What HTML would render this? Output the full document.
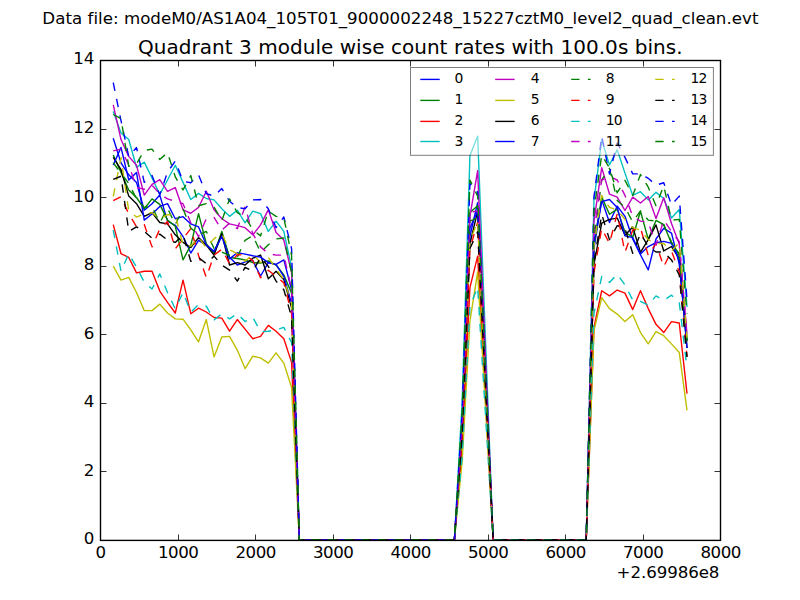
<!DOCTYPE html>
<html lang="en"><head><meta charset="utf-8"><title>Quadrant 3 module wise count rates</title>
<style>html,body{margin:0;padding:0;background:#fff;}body{width:800px;height:600px;overflow:hidden;}svg{display:block;}text{font-family:"DejaVu Sans","Liberation Sans",sans-serif;fill:#000;}</style></head><body>
<svg width="800" height="600" viewBox="0 0 800 600">
<rect x="0" y="0" width="800" height="600" fill="#ffffff"/>
<defs><clipPath id="ax"><rect x="100" y="60" width="620" height="480"/></clipPath></defs>
<g clip-path="url(#ax)" fill="none" stroke-width="1.39" stroke-linejoin="round" stroke-linecap="butt">
<polyline points="113.25,138.17 121.00,162.86 128.76,174.86 136.51,182.40 144.26,210.17 152.02,203.66 159.77,195.09 167.52,221.14 175.28,225.26 183.03,236.57 190.78,253.03 198.54,240.34 206.29,245.14 214.04,251.31 221.80,234.86 229.55,257.14 237.30,265.03 245.06,261.94 252.81,260.57 260.56,276.00 268.32,262.63 276.07,264.34 283.83,259.89 291.58,289.71 299.33,540.00 307.09,540.00 314.84,540.00 322.59,540.00 330.35,540.00 338.10,540.00 345.85,540.00 353.61,540.00 361.36,540.00 369.11,540.00 376.87,540.00 384.62,540.00 392.37,540.00 400.13,540.00 407.88,540.00 415.63,540.00 423.39,540.00 431.14,540.00 438.89,540.00 446.65,540.00 454.40,540.00 462.15,430.63 469.91,236.23 477.66,202.63 485.41,371.31 493.17,540.00 500.92,540.00 508.67,540.00 516.43,540.00 524.18,540.00 531.93,540.00 539.69,540.00 547.44,540.00 555.19,540.00 562.95,540.00 570.70,540.00 578.45,540.00 586.21,540.00 593.96,248.57 601.72,199.89 609.47,222.51 617.22,206.06 624.98,216.34 632.73,238.97 640.48,254.74 648.24,269.83 655.99,238.97 663.74,228.34 671.50,233.14 679.25,264.00 687.00,341.14" stroke="#0000ff"/>
<polyline points="113.25,154.97 121.00,172.46 128.76,189.94 136.51,197.49 144.26,208.80 152.02,198.86 159.77,204.34 167.52,220.11 175.28,226.29 183.03,259.89 190.78,245.14 198.54,213.60 206.29,243.77 214.04,253.71 221.80,231.43 229.55,257.49 237.30,258.51 245.06,259.89 252.81,262.63 260.56,262.97 268.32,260.91 276.07,265.03 283.83,274.97 291.58,293.14 299.33,540.00 307.09,540.00 314.84,540.00 322.59,540.00 330.35,540.00 338.10,540.00 345.85,540.00 353.61,540.00 361.36,540.00 369.11,540.00 376.87,540.00 384.62,540.00 392.37,540.00 400.13,540.00 407.88,540.00 415.63,540.00 423.39,540.00 431.14,540.00 438.89,540.00 446.65,540.00 454.40,540.00 462.15,422.06 469.91,212.57 477.66,205.71 485.41,372.69 493.17,540.00 500.92,540.00 508.67,540.00 516.43,540.00 524.18,540.00 531.93,540.00 539.69,540.00 547.44,540.00 555.19,540.00 562.95,540.00 570.70,540.00 578.45,540.00 586.21,540.00 593.96,245.14 601.72,197.14 609.47,214.29 617.22,209.14 624.98,232.11 632.73,237.26 640.48,211.20 648.24,239.31 655.99,220.46 663.74,224.57 671.50,243.43 679.25,253.71 687.00,341.14" stroke="#008000"/>
<polyline points="113.25,224.57 121.00,253.71 128.76,257.49 136.51,272.91 144.26,271.20 152.02,271.20 159.77,291.09 167.52,302.40 175.28,313.03 183.03,280.11 190.78,313.71 198.54,308.23 206.29,312.00 214.04,317.49 221.80,318.17 229.55,331.20 237.30,319.54 245.06,329.14 252.81,338.74 260.56,336.34 268.32,325.37 276.07,331.20 283.83,338.74 291.58,362.40 299.33,540.00 307.09,540.00 314.84,540.00 322.59,540.00 330.35,540.00 338.10,540.00 345.85,540.00 353.61,540.00 361.36,540.00 369.11,540.00 376.87,540.00 384.62,540.00 392.37,540.00 400.13,540.00 407.88,540.00 415.63,540.00 423.39,540.00 431.14,540.00 438.89,540.00 446.65,540.00 454.40,540.00 462.15,449.14 469.91,287.66 477.66,256.11 485.41,398.06 493.17,540.00 500.92,540.00 508.67,540.00 516.43,540.00 524.18,540.00 531.93,540.00 539.69,540.00 547.44,540.00 555.19,540.00 562.95,540.00 570.70,540.00 578.45,540.00 586.21,540.00 593.96,327.43 601.72,290.74 609.47,295.89 617.22,290.06 624.98,293.14 632.73,309.60 640.48,290.74 648.24,308.57 655.99,324.34 663.74,332.57 671.50,321.60 679.25,322.97 687.00,393.60" stroke="#ff0000"/>
<polyline points="113.25,111.43 121.00,133.03 128.76,139.54 136.51,167.31 144.26,162.17 152.02,177.94 159.77,194.40 167.52,180.00 175.28,165.26 183.03,182.40 190.78,199.54 198.54,193.37 206.29,198.51 214.04,199.89 221.80,208.80 229.55,216.34 237.30,210.17 245.06,222.86 252.81,211.20 260.56,213.60 268.32,231.43 276.07,221.14 283.83,231.43 291.58,267.43 299.33,540.00 307.09,540.00 314.84,540.00 322.59,540.00 330.35,540.00 338.10,540.00 345.85,540.00 353.61,540.00 361.36,540.00 369.11,540.00 376.87,540.00 384.62,540.00 392.37,540.00 400.13,540.00 407.88,540.00 415.63,540.00 423.39,540.00 431.14,540.00 438.89,540.00 446.65,540.00 454.40,540.00 462.15,401.49 469.91,155.66 477.66,136.11 485.41,338.06 493.17,540.00 500.92,540.00 508.67,540.00 516.43,540.00 524.18,540.00 531.93,540.00 539.69,540.00 547.44,540.00 555.19,540.00 562.95,540.00 570.70,540.00 578.45,540.00 586.21,540.00 593.96,200.57 601.72,139.89 609.47,164.91 617.22,149.83 624.98,173.14 632.73,195.43 640.48,191.66 648.24,199.89 655.99,192.34 663.74,198.51 671.50,218.06 679.25,209.49 687.00,306.86" stroke="#00bfbf"/>
<polyline points="113.25,104.91 121.00,139.54 128.76,156.34 136.51,165.26 144.26,195.09 152.02,184.46 159.77,179.66 167.52,191.31 175.28,187.54 183.03,209.83 190.78,213.26 198.54,207.43 206.29,191.31 214.04,209.83 221.80,218.74 229.55,223.89 237.30,225.60 245.06,227.66 252.81,234.86 260.56,224.91 268.32,209.83 276.07,232.46 283.83,240.00 291.58,272.57 299.33,540.00 307.09,540.00 314.84,540.00 322.59,540.00 330.35,540.00 338.10,540.00 345.85,540.00 353.61,540.00 361.36,540.00 369.11,540.00 376.87,540.00 384.62,540.00 392.37,540.00 400.13,540.00 407.88,540.00 415.63,540.00 423.39,540.00 431.14,540.00 438.89,540.00 446.65,540.00 454.40,540.00 462.15,423.43 469.91,216.34 477.66,170.74 485.41,355.54 493.17,540.00 500.92,540.00 508.67,540.00 516.43,540.00 524.18,540.00 531.93,540.00 539.69,540.00 547.44,540.00 555.19,540.00 562.95,540.00 570.70,540.00 578.45,540.00 586.21,540.00 593.96,221.14 601.72,167.66 609.47,194.06 617.22,197.14 624.98,210.51 632.73,197.14 640.48,202.97 648.24,196.46 655.99,218.40 663.74,197.83 671.50,223.54 679.25,244.11 687.00,334.29" stroke="#bf00bf"/>
<polyline points="113.25,266.06 121.00,280.11 128.76,277.37 136.51,292.46 144.26,310.63 152.02,310.63 159.77,304.11 167.52,313.03 175.28,318.86 183.03,319.20 190.78,329.83 198.54,341.83 206.29,319.54 214.04,356.91 221.80,337.03 229.55,336.34 237.30,350.06 245.06,368.57 252.81,356.23 260.56,357.94 268.32,363.09 276.07,352.80 283.83,363.09 291.58,387.43 299.33,540.00 307.09,540.00 314.84,540.00 322.59,540.00 330.35,540.00 338.10,540.00 345.85,540.00 353.61,540.00 361.36,540.00 369.11,540.00 376.87,540.00 384.62,540.00 392.37,540.00 400.13,540.00 407.88,540.00 415.63,540.00 423.39,540.00 431.14,540.00 438.89,540.00 446.65,540.00 454.40,540.00 462.15,461.14 469.91,321.26 477.66,271.89 485.41,405.94 493.17,540.00 500.92,540.00 508.67,540.00 516.43,540.00 524.18,540.00 531.93,540.00 539.69,540.00 547.44,540.00 555.19,540.00 562.95,540.00 570.70,540.00 578.45,540.00 586.21,540.00 593.96,330.86 601.72,297.60 609.47,308.57 617.22,314.06 624.98,321.60 632.73,314.74 640.48,332.57 648.24,343.89 655.99,331.54 663.74,335.66 671.50,343.89 679.25,352.46 687.00,410.40" stroke="#bfbf00"/>
<polyline points="113.25,157.37 121.00,169.71 128.76,196.11 136.51,203.66 144.26,216.34 152.02,212.57 159.77,222.51 167.52,223.89 175.28,234.86 183.03,242.40 190.78,247.54 198.54,237.60 206.29,245.14 214.04,255.09 221.80,233.83 229.55,265.03 237.30,262.63 245.06,265.03 252.81,258.17 260.56,255.09 268.32,278.74 276.07,271.20 283.83,279.43 291.58,307.89 299.33,540.00 307.09,540.00 314.84,540.00 322.59,540.00 330.35,540.00 338.10,540.00 345.85,540.00 353.61,540.00 361.36,540.00 369.11,540.00 376.87,540.00 384.62,540.00 392.37,540.00 400.13,540.00 407.88,540.00 415.63,540.00 423.39,540.00 431.14,540.00 438.89,540.00 446.65,540.00 454.40,540.00 462.15,433.37 469.91,243.77 477.66,211.20 485.41,375.77 493.17,540.00 500.92,540.00 508.67,540.00 516.43,540.00 524.18,540.00 531.93,540.00 539.69,540.00 547.44,540.00 555.19,540.00 562.95,540.00 570.70,540.00 578.45,540.00 586.21,540.00 593.96,264.34 601.72,223.20 609.47,219.43 617.22,218.06 624.98,235.20 632.73,226.97 640.48,252.34 648.24,239.66 655.99,224.91 663.74,250.97 671.50,246.51 679.25,258.51 687.00,348.00" stroke="#000000"/>
<polyline points="113.25,164.91 121.00,147.43 128.76,180.00 136.51,172.46 144.26,220.11 152.02,213.94 159.77,206.40 167.52,203.66 175.28,218.74 183.03,216.69 190.78,223.89 198.54,226.97 206.29,244.80 214.04,251.66 221.80,236.23 229.55,258.86 237.30,252.69 245.06,254.06 252.81,255.77 260.56,257.14 268.32,262.63 276.07,264.69 283.83,276.34 291.58,303.43 299.33,540.00 307.09,540.00 314.84,540.00 322.59,540.00 330.35,540.00 338.10,540.00 345.85,540.00 353.61,540.00 361.36,540.00 369.11,540.00 376.87,540.00 384.62,540.00 392.37,540.00 400.13,540.00 407.88,540.00 415.63,540.00 423.39,540.00 431.14,540.00 438.89,540.00 446.65,540.00 454.40,540.00 462.15,427.54 469.91,228.00 477.66,210.86 485.41,375.43 493.17,540.00 500.92,540.00 508.67,540.00 516.43,540.00 524.18,540.00 531.93,540.00 539.69,540.00 547.44,540.00 555.19,540.00 562.95,540.00 570.70,540.00 578.45,540.00 586.21,540.00 593.96,241.71 601.72,201.60 609.47,199.54 617.22,207.43 624.98,235.89 632.73,237.60 640.48,254.06 648.24,246.51 655.99,242.74 663.74,241.37 671.50,243.43 679.25,259.89 687.00,348.00" stroke="#0000ff"/>
<polyline points="113.25,162.86 121.00,173.14 128.76,183.43 136.51,198.86 144.26,207.43 152.02,206.40 159.77,222.86 167.52,208.11 175.28,224.57 183.03,208.80 190.78,228.00 198.54,234.86 206.29,231.43 214.04,248.57 221.80,252.00 229.55,255.43 237.30,257.14 245.06,240.34 252.81,235.54 260.56,252.34 268.32,244.80 276.07,238.97 283.83,237.94 291.58,272.57 299.33,540.00 307.09,540.00 314.84,540.00 322.59,540.00 330.35,540.00 338.10,540.00 345.85,540.00 353.61,540.00 361.36,540.00 369.11,540.00 376.87,540.00 384.62,540.00 392.37,540.00 400.13,540.00 407.88,540.00 415.63,540.00 423.39,540.00 431.14,540.00 438.89,540.00 446.65,540.00 454.40,540.00 462.15,425.14 469.91,221.14 477.66,217.71 485.41,378.86 493.17,540.00 500.92,540.00 508.67,540.00 516.43,540.00 524.18,540.00 531.93,540.00 539.69,540.00 547.44,540.00 555.19,540.00 562.95,540.00 570.70,540.00 578.45,540.00 586.21,540.00 593.96,238.29 601.72,180.00 609.47,168.34 617.22,200.57 624.98,207.43 632.73,221.83 640.48,210.86 648.24,220.11 655.99,221.14 663.74,224.91 671.50,242.06 679.25,255.43 687.00,341.14" stroke="#008000" stroke-dasharray="8.33 8.33"/>
<polyline points="113.25,200.57 121.00,196.80 128.76,213.94 136.51,226.63 144.26,224.57 152.02,246.86 159.77,229.03 167.52,221.49 175.28,248.91 183.03,238.63 190.78,228.69 198.54,255.43 206.29,277.37 214.04,255.09 221.80,249.26 229.55,263.66 237.30,254.74 245.06,255.09 252.81,260.57 260.56,277.71 268.32,270.17 276.07,276.34 283.83,282.86 291.58,313.71 299.33,540.00 307.09,540.00 314.84,540.00 322.59,540.00 330.35,540.00 338.10,540.00 345.85,540.00 353.61,540.00 361.36,540.00 369.11,540.00 376.87,540.00 384.62,540.00 392.37,540.00 400.13,540.00 407.88,540.00 415.63,540.00 423.39,540.00 431.14,540.00 438.89,540.00 446.65,540.00 454.40,540.00 462.15,435.09 469.91,248.57 477.66,222.51 485.41,381.26 493.17,540.00 500.92,540.00 508.67,540.00 516.43,540.00 524.18,540.00 531.93,540.00 539.69,540.00 547.44,540.00 555.19,540.00 562.95,540.00 570.70,540.00 578.45,540.00 586.21,540.00 593.96,272.57 601.72,228.34 609.47,243.43 617.22,213.60 624.98,252.34 632.73,230.06 640.48,227.66 648.24,255.43 655.99,243.43 663.74,266.74 671.50,250.97 679.25,271.89 687.00,356.91" stroke="#ff0000" stroke-dasharray="8.33 8.33"/>
<polyline points="113.25,230.06 121.00,271.20 128.76,253.71 136.51,267.09 144.26,282.17 152.02,289.03 159.77,273.94 167.52,292.46 175.28,308.91 183.03,292.46 190.78,312.34 198.54,304.46 206.29,306.17 214.04,319.89 221.80,313.71 229.55,318.86 237.30,313.71 245.06,321.60 252.81,317.49 260.56,331.54 268.32,331.20 276.07,329.83 283.83,327.43 291.58,342.51 299.33,540.00 307.09,540.00 314.84,540.00 322.59,540.00 330.35,540.00 338.10,540.00 345.85,540.00 353.61,540.00 361.36,540.00 369.11,540.00 376.87,540.00 384.62,540.00 392.37,540.00 400.13,540.00 407.88,540.00 415.63,540.00 423.39,540.00 431.14,540.00 438.89,540.00 446.65,540.00 454.40,540.00 462.15,456.00 469.91,306.86 477.66,286.97 485.41,413.49 493.17,540.00 500.92,540.00 508.67,540.00 516.43,540.00 524.18,540.00 531.93,540.00 539.69,540.00 547.44,540.00 555.19,540.00 562.95,540.00 570.70,540.00 578.45,540.00 586.21,540.00 593.96,313.71 601.72,276.34 609.47,282.51 617.22,274.29 624.98,284.91 632.73,300.00 640.48,301.37 648.24,305.14 655.99,295.89 663.74,300.34 671.50,295.20 679.25,302.40 687.00,368.57" stroke="#00bfbf" stroke-dasharray="8.33 8.33"/>
<polyline points="113.25,150.86 121.00,149.14 128.76,164.91 136.51,187.54 144.26,189.26 152.02,185.14 159.77,193.71 167.52,198.86 175.28,201.26 183.03,203.66 190.78,222.86 198.54,236.57 206.29,218.74 214.04,217.37 221.80,230.06 229.55,223.20 237.30,228.69 245.06,206.74 252.81,233.83 260.56,246.86 268.32,253.71 276.07,255.09 283.83,255.09 291.58,289.71 299.33,540.00 307.09,540.00 314.84,540.00 322.59,540.00 330.35,540.00 338.10,540.00 345.85,540.00 353.61,540.00 361.36,540.00 369.11,540.00 376.87,540.00 384.62,540.00 392.37,540.00 400.13,540.00 407.88,540.00 415.63,540.00 423.39,540.00 431.14,540.00 438.89,540.00 446.65,540.00 454.40,540.00 462.15,422.06 469.91,212.23 477.66,210.86 485.41,375.43 493.17,540.00 500.92,540.00 508.67,540.00 516.43,540.00 524.18,540.00 531.93,540.00 539.69,540.00 547.44,540.00 555.19,540.00 562.95,540.00 570.70,540.00 578.45,540.00 586.21,540.00 593.96,231.43 601.72,180.00 609.47,176.57 617.22,180.00 624.98,195.43 632.73,216.34 640.48,221.14 648.24,222.17 655.99,245.14 663.74,220.11 671.50,231.43 679.25,241.71 687.00,334.29" stroke="#bf00bf" stroke-dasharray="8.33 8.33"/>
<polyline points="113.25,196.46 121.00,157.71 128.76,210.86 136.51,217.03 144.26,213.94 152.02,212.57 159.77,219.09 167.52,214.63 175.28,214.97 183.03,245.14 190.78,246.17 198.54,237.26 206.29,247.89 214.04,238.63 221.80,233.83 229.55,249.94 237.30,253.71 245.06,261.26 252.81,254.40 260.56,262.63 268.32,257.49 276.07,269.14 283.83,279.43 291.58,303.43 299.33,540.00 307.09,540.00 314.84,540.00 322.59,540.00 330.35,540.00 338.10,540.00 345.85,540.00 353.61,540.00 361.36,540.00 369.11,540.00 376.87,540.00 384.62,540.00 392.37,540.00 400.13,540.00 407.88,540.00 415.63,540.00 423.39,540.00 431.14,540.00 438.89,540.00 446.65,540.00 454.40,540.00 462.15,432.69 469.91,241.71 477.66,221.14 485.41,380.57 493.17,540.00 500.92,540.00 508.67,540.00 516.43,540.00 524.18,540.00 531.93,540.00 539.69,540.00 547.44,540.00 555.19,540.00 562.95,540.00 570.70,540.00 578.45,540.00 586.21,540.00 593.96,245.14 601.72,195.43 609.47,207.43 617.22,209.83 624.98,219.43 632.73,227.66 640.48,230.06 648.24,239.66 655.99,243.43 663.74,243.43 671.50,250.97 679.25,242.74 687.00,337.71" stroke="#bfbf00" stroke-dasharray="8.33 8.33"/>
<polyline points="113.25,179.31 121.00,176.23 128.76,231.43 136.51,226.97 144.26,231.43 152.02,238.29 159.77,234.17 167.52,240.00 175.28,242.40 183.03,234.86 190.78,261.26 198.54,257.49 206.29,263.66 214.04,256.11 221.80,265.03 229.55,270.17 237.30,281.14 245.06,267.43 252.81,271.20 260.56,257.49 268.32,266.40 276.07,281.14 283.83,289.71 291.58,317.14 299.33,540.00 307.09,540.00 314.84,540.00 322.59,540.00 330.35,540.00 338.10,540.00 345.85,540.00 353.61,540.00 361.36,540.00 369.11,540.00 376.87,540.00 384.62,540.00 392.37,540.00 400.13,540.00 407.88,540.00 415.63,540.00 423.39,540.00 431.14,540.00 438.89,540.00 446.65,540.00 454.40,540.00 462.15,435.09 469.91,248.57 477.66,231.77 485.41,385.71 493.17,540.00 500.92,540.00 508.67,540.00 516.43,540.00 524.18,540.00 531.93,540.00 539.69,540.00 547.44,540.00 555.19,540.00 562.95,540.00 570.70,540.00 578.45,540.00 586.21,540.00 593.96,262.29 601.72,214.29 609.47,239.66 617.22,225.60 624.98,228.34 632.73,253.37 640.48,233.49 648.24,246.51 655.99,252.00 663.74,252.00 671.50,259.89 679.25,274.97 687.00,356.91" stroke="#000000" stroke-dasharray="8.33 8.33"/>
<polyline points="113.25,82.63 121.00,120.69 128.76,156.69 136.51,147.43 144.26,182.40 152.02,175.54 159.77,194.74 167.52,172.11 175.28,161.14 183.03,181.37 190.78,182.74 198.54,174.86 206.29,193.71 214.04,196.11 221.80,188.57 229.55,201.26 237.30,207.43 245.06,208.80 252.81,199.89 260.56,199.54 268.32,208.80 276.07,227.66 283.83,217.03 291.58,248.57 299.33,540.00 307.09,540.00 314.84,540.00 322.59,540.00 330.35,540.00 338.10,540.00 345.85,540.00 353.61,540.00 361.36,540.00 369.11,540.00 376.87,540.00 384.62,540.00 392.37,540.00 400.13,540.00 407.88,540.00 415.63,540.00 423.39,540.00 431.14,540.00 438.89,540.00 446.65,540.00 454.40,540.00 462.15,411.77 469.91,183.43 477.66,192.00 485.41,365.83 493.17,540.00 500.92,540.00 508.67,540.00 516.43,540.00 524.18,540.00 531.93,540.00 539.69,540.00 547.44,540.00 555.19,540.00 562.95,540.00 570.70,540.00 578.45,540.00 586.21,540.00 593.96,197.14 601.72,135.94 609.47,174.17 617.22,142.97 624.98,157.37 632.73,173.83 640.48,173.83 648.24,178.29 655.99,185.14 663.74,182.74 671.50,205.03 679.25,196.11 687.00,300.00" stroke="#0000ff" stroke-dasharray="8.33 8.33"/>
<polyline points="113.25,114.51 121.00,118.63 128.76,166.29 136.51,163.89 144.26,150.51 152.02,149.14 159.77,159.43 167.52,152.57 175.28,176.91 183.03,189.94 190.78,175.54 198.54,205.71 206.29,203.66 214.04,207.09 221.80,220.80 229.55,198.86 237.30,212.57 245.06,217.03 252.81,229.71 260.56,235.89 268.32,211.20 276.07,216.34 283.83,217.71 291.58,255.43 299.33,540.00 307.09,540.00 314.84,540.00 322.59,540.00 330.35,540.00 338.10,540.00 345.85,540.00 353.61,540.00 361.36,540.00 369.11,540.00 376.87,540.00 384.62,540.00 392.37,540.00 400.13,540.00 407.88,540.00 415.63,540.00 423.39,540.00 431.14,540.00 438.89,540.00 446.65,540.00 454.40,540.00 462.15,410.40 469.91,180.00 477.66,196.11 485.41,368.23 493.17,540.00 500.92,540.00 508.67,540.00 516.43,540.00 524.18,540.00 531.93,540.00 539.69,540.00 547.44,540.00 555.19,540.00 562.95,540.00 570.70,540.00 578.45,540.00 586.21,540.00 593.96,210.86 601.72,154.97 609.47,168.00 617.22,192.69 624.98,180.34 632.73,195.43 640.48,174.51 648.24,187.20 655.99,205.71 663.74,185.83 671.50,220.11 679.25,219.43 687.00,313.71" stroke="#008000" stroke-dasharray="8.33 8.33"/>
</g>
<rect x="100.5" y="60.5" width="620" height="479.9" fill="none" stroke="#000" stroke-width="1.39"/>
<path d="M100.5 540.5 v-6 M100.5 60.5 v6 M178.5 540.5 v-6 M178.5 60.5 v6 M255.5 540.5 v-6 M255.5 60.5 v6 M333.5 540.5 v-6 M333.5 60.5 v6 M410.5 540.5 v-6 M410.5 60.5 v6 M488.5 540.5 v-6 M488.5 60.5 v6 M565.5 540.5 v-6 M565.5 60.5 v6 M643.5 540.5 v-6 M643.5 60.5 v6 M720.5 540.5 v-6 M720.5 60.5 v6 M100.5 540.5 h6 M720.5 540.5 h-6 M100.5 471.5 h6 M720.5 471.5 h-6 M100.5 403.5 h6 M720.5 403.5 h-6 M100.5 334.5 h6 M720.5 334.5 h-6 M100.5 266.5 h6 M720.5 266.5 h-6 M100.5 197.5 h6 M720.5 197.5 h-6 M100.5 129.5 h6 M720.5 129.5 h-6 M100.5 60.5 h6 M720.5 60.5 h-6" stroke="#000" stroke-width="0.8" fill="none"/>
<g font-size="16.67px" text-anchor="middle" letter-spacing="-0.45">
<text x="100.70" y="558.3">0</text>
<text x="178.20" y="558.3">1000</text>
<text x="255.70" y="558.3">2000</text>
<text x="333.20" y="558.3">3000</text>
<text x="410.70" y="558.3">4000</text>
<text x="488.20" y="558.3">5000</text>
<text x="565.70" y="558.3">6000</text>
<text x="643.20" y="558.3">7000</text>
<text x="720.70" y="558.3">8000</text>
</g>
<g font-size="16.67px" text-anchor="end" letter-spacing="-0.25">
<text x="94.0" y="544.20">0</text>
<text x="94.0" y="476.20">2</text>
<text x="94.0" y="407.20">4</text>
<text x="94.0" y="339.20">6</text>
<text x="94.0" y="270.20">8</text>
<text x="94.0" y="202.20">10</text>
<text x="94.0" y="133.20">12</text>
<text x="94.0" y="64.20">14</text>
</g>
<text x="719.3" y="578" font-size="16.67px" text-anchor="end" letter-spacing="-0.1">+2.69986e8</text>
<text x="410.3" y="54.0" font-size="20px" text-anchor="middle" letter-spacing="0.035">Quadrant 3 module wise count rates with 100.0s bins.</text>
<text x="400.4" y="23.8" font-size="16.67px" text-anchor="middle" letter-spacing="0.02">Data file: modeM0/AS1A04_105T01_9000002248_15227cztM0_level2_quad_clean.evt</text>
<rect x="410.5" y="67.5" width="302.9" height="87.8" fill="#ffffff" fill-opacity="0.5" stroke="#000000" stroke-opacity="0.5" stroke-width="1"/>
<g font-size="13.89px" letter-spacing="-0.8">
<path d="M420.3 79.4 h19.4" stroke="#0000ff" stroke-width="1.39" fill="none"/>
<text x="454.6" y="83.0">0</text>
<path d="M420.3 100.4 h19.4" stroke="#008000" stroke-width="1.39" fill="none"/>
<text x="454.6" y="104.0">1</text>
<path d="M420.3 121.4 h19.4" stroke="#ff0000" stroke-width="1.39" fill="none"/>
<text x="454.6" y="125.0">2</text>
<path d="M420.3 141.5 h19.4" stroke="#00bfbf" stroke-width="1.39" fill="none"/>
<text x="454.6" y="146.0">3</text>
<path d="M495.2 79.4 h19.4" stroke="#bf00bf" stroke-width="1.39" fill="none"/>
<text x="530.8" y="83.0">4</text>
<path d="M495.2 100.4 h19.4" stroke="#bfbf00" stroke-width="1.39" fill="none"/>
<text x="530.8" y="104.0">5</text>
<path d="M495.2 121.4 h19.4" stroke="#000000" stroke-width="1.39" fill="none"/>
<text x="530.8" y="125.0">6</text>
<path d="M495.2 141.5 h19.4" stroke="#0000ff" stroke-width="1.39" fill="none"/>
<text x="530.8" y="146.0">7</text>
<path d="M571.2 79.4 h19.4" stroke="#008000" stroke-width="1.39" fill="none" stroke-dasharray="8.33 8.33"/>
<text x="605.7" y="83.0">8</text>
<path d="M571.2 100.4 h19.4" stroke="#ff0000" stroke-width="1.39" fill="none" stroke-dasharray="8.33 8.33"/>
<text x="605.7" y="104.0">9</text>
<path d="M571.2 121.4 h19.4" stroke="#00bfbf" stroke-width="1.39" fill="none" stroke-dasharray="8.33 8.33"/>
<text x="605.7" y="125.0">10</text>
<path d="M571.2 141.5 h19.4" stroke="#bf00bf" stroke-width="1.39" fill="none" stroke-dasharray="8.33 8.33"/>
<text x="605.7" y="146.0">11</text>
<path d="M655.3 79.4 h19.4" stroke="#bfbf00" stroke-width="1.39" fill="none" stroke-dasharray="8.33 8.33"/>
<text x="690.4" y="83.0">12</text>
<path d="M655.3 100.4 h19.4" stroke="#000000" stroke-width="1.39" fill="none" stroke-dasharray="8.33 8.33"/>
<text x="690.4" y="104.0">13</text>
<path d="M655.3 121.4 h19.4" stroke="#0000ff" stroke-width="1.39" fill="none" stroke-dasharray="8.33 8.33"/>
<text x="690.4" y="125.0">14</text>
<path d="M655.3 141.5 h19.4" stroke="#008000" stroke-width="1.39" fill="none" stroke-dasharray="8.33 8.33"/>
<text x="690.4" y="146.0">15</text>
</g>
</svg></body></html>
